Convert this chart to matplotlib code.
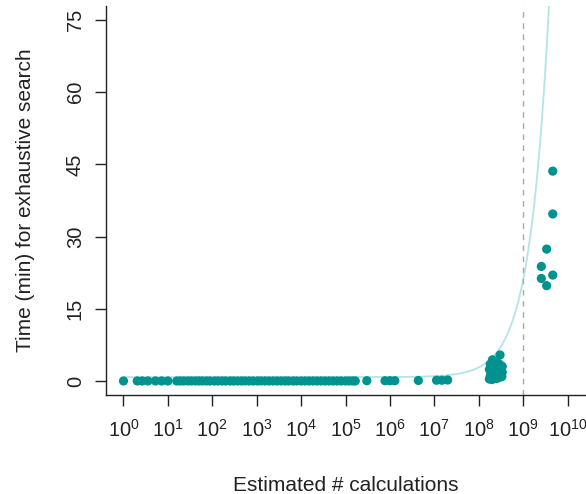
import numpy as np
import matplotlib
matplotlib.use("Agg")
import matplotlib.pyplot as plt

plt.rcParams['font.family'] = ['Liberation Sans', 'DejaVu Sans']

# log10 of estimated number of calculations for near-zero runs
low_log10 = [0.0, 0.31, 0.42, 0.55, 0.72, 0.86, 1.0,
             1.2, 1.28, 1.36, 1.45, 1.53, 1.62, 1.7, 1.78, 1.87, 1.95,
             2.05, 2.13, 2.22, 2.3, 2.4, 2.48, 2.57, 2.66, 2.74, 2.83, 2.92,
             3.02, 3.1, 3.19, 3.28, 3.37, 3.46, 3.55, 3.64, 3.72, 3.82, 3.9,
             4.0, 4.09, 4.18, 4.27, 4.36, 4.45, 4.54, 4.63, 4.72, 4.81, 4.9,
             5.0, 5.08, 5.16, 5.22,
             5.48, 5.89, 6.0, 6.11, 6.64, 7.05, 7.17, 7.3]
low_time = [0.0] * 54 + [0.05, 0.05, 0.05, 0.05, 0.1, 0.15, 0.15, 0.2]

# cluster around 10^8.2 - 10^8.55
mid_log10 = [8.24, 8.26, 8.28, 8.3, 8.32, 8.34, 8.36, 8.38, 8.4, 8.42, 8.45, 8.48, 8.5, 8.52, 8.53,
             8.24, 8.27, 8.3, 8.35, 8.4, 8.45, 8.5, 8.53, 8.31, 8.48, 8.4, 8.26, 8.5]
mid_time = [0.4, 1.0, 1.6, 2.2, 0.8, 2.8, 1.2, 3.3, 0.5, 2.0, 3.6, 1.4, 2.6, 0.9, 3.0,
            2.4, 3.0, 0.3, 2.5, 1.7, 0.7, 3.2, 1.8, 4.4, 5.4, 3.8, 3.5, 2.2]

# largest runs
high_log10 = [9.41, 9.41, 9.53, 9.53, 9.667, 9.667, 9.667]
high_time = [23.8, 21.3, 27.4, 19.8, 43.6, 34.7, 22.0]

# linear fit: time = intercept + slope * calculations
fit_intercept = 0.8
fit_slope = 2.02e-8

x_ticks_exp = list(range(0, 11))
y_ticks = [0, 15, 30, 45, 60, 75]

teal = '#00928f'
curve_col = '#b4e4e4'

fig = plt.figure(figsize=(5.86, 4.94), dpi=100)
ax = fig.add_axes([0.1804, 0.1996, 0.8184, 0.7891])

all_log = np.array(low_log10 + mid_log10 + high_log10)
all_time = np.array(low_time + mid_time + high_time)

xs = np.logspace(0, 10.4, 600)
ax.plot(xs, fit_intercept + fit_slope * xs, color=curve_col, lw=1.3, zorder=1)
ax.axvline(1e9, color='#a8a8a8', lw=1.0, ls=(0, (4, 4)), zorder=1)
ax.scatter(10 ** all_log, all_time, s=44, color=teal, edgecolors='none', zorder=3)

ax.set_xscale('log')
ax.set_xlim(10 ** -0.4, 10 ** 10.4)
ax.set_ylim(-3, 78)

ax.set_xticks([10.0 ** e for e in x_ticks_exp])
ax.set_xticklabels([r'$\mathregular{10^{%d}}$' % e for e in x_ticks_exp])
ax.xaxis.set_minor_locator(matplotlib.ticker.NullLocator())
ax.set_yticks(y_ticks)
ax.set_yticklabels([str(v) for v in y_ticks], rotation=90, va='center')

for s in ['top', 'right']:
    ax.spines[s].set_visible(False)
for s in ['left', 'bottom']:
    ax.spines[s].set_linewidth(1.0)
    ax.spines[s].set_color('#222222')

ax.tick_params(axis='both', direction='out', length=8, width=1.0, labelsize=14.5,
               pad=7, colors='#222222')
ax.tick_params(axis='x', pad=9)

ax.set_xlabel('Estimated # calculations', fontsize=15, labelpad=25, color='#222222')
ax.set_ylabel('Time (min) for exhaustive search', fontsize=15, labelpad=22, color='#222222')

fig.savefig('out.png', dpi=100)
